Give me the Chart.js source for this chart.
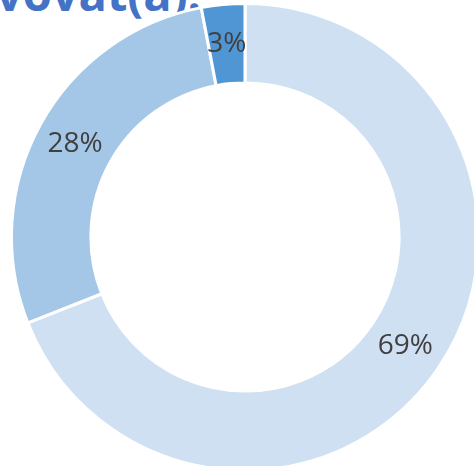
<!DOCTYPE html>
<html>
<head>
<meta charset="utf-8">
<script src="https://cdn.jsdelivr.net/npm/chart.js@4"></script>
<style>
  html, body { margin: 0; padding: 0; background: #fff; width: 474px; height: 466px; overflow: hidden; }
  #title { position: absolute; right: 273px; top: -39px; font: bold 47px "Open Sans", sans-serif; color: #4472c4; white-space: nowrap; }
  #wrap { position: absolute; left: 10px; top: 2px; width: 470px; height: 470px; }
</style>
</head>
<body>
<div id="title">vovat(a):</div>
<div id="wrap"><canvas id="c"></canvas></div>
<script>
// Answer shares (percent)
const labels = ["A", "B", "C"];
const shares = [69, 28, 3];
const colors = ["#cfe0f2", "#a4c7e8", "#5096d4"];

// draw "NN%" at each arc's centre
const pctLabels = {
  id: "pctLabels",
  afterDatasetsDraw(chart) {
    const ctx = chart.ctx;
    ctx.save();
    ctx.font = "28px 'Open Sans', sans-serif";
    ctx.fillStyle = "#404040";
    ctx.textAlign = "center"; ctx.textBaseline = "middle";
    chart.getDatasetMeta(0).data.forEach((arc, i) => {
      const p = arc.tooltipPosition();
      ctx.fillText(shares[i] + "%", p.x, p.y);
    });
    ctx.restore();
  }
};

new Chart(document.getElementById("c"), {
  type: "doughnut",
  data: { labels, datasets: [{ data: shares, backgroundColor: colors, borderColor: "#fff", borderWidth: 3 }] },
  options: {
    responsive: true, maintainAspectRatio: false, animation: false,
    cutout: "66%",
    layout: { padding: 0 },
    plugins: { legend: { display: false }, tooltip: { enabled: false } }
  },
  plugins: [pctLabels]
});
</script>
</body>
</html>
